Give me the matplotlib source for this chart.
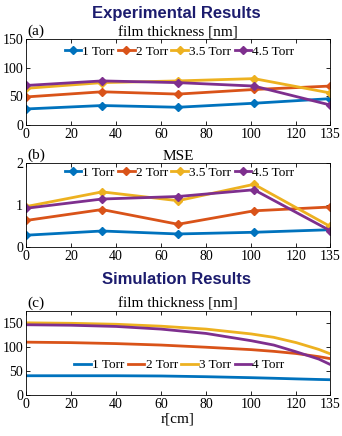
import matplotlib
matplotlib.use("Agg")
import matplotlib.pyplot as plt

# experimental data (5 radial positions)
r_exp = [0, 33.75, 67.5, 101.25, 135]
exp_labels = ["1 Torr", "2 Torr", "3.5 Torr", "4.5 Torr"]
thick_1 = [28, 34, 31, 38, 46]
thick_2 = [49, 58, 54, 62, 68]
thick_35 = [64, 74, 77, 81, 56]
thick_45 = [69, 77, 74, 68, 35]
mse_1 = [0.28, 0.38, 0.31, 0.35, 0.41]
mse_2 = [0.63, 0.89, 0.54, 0.86, 0.95]
mse_35 = [0.96, 1.31, 1.10, 1.49, 0.49]
mse_45 = [0.92, 1.14, 1.20, 1.36, 0.39]

# simulation curves
r_sim = [0, 20, 40, 60, 80, 100, 110, 120, 130, 135]
sim_labels = ["1 Torr", "2 Torr", "3 Torr", "4 Torr"]
sim_1 = [40.5, 40.5, 40.5, 40, 38.5, 36.5, 35.3, 34, 32.8, 32.3]
sim_2 = [110, 109, 107, 104, 99.5, 94.5, 91, 86.5, 80, 76]
sim_3 = [150, 149, 147, 143, 137, 127, 120, 109, 95, 86]
sim_4 = [146, 145, 142.5, 137, 128, 113, 104, 90, 75, 64]

colors = ["#0072BD", "#D95319", "#EDB120", "#7E2F8E"]
xticks = [0, 20, 40, 60, 80, 100, 120, 135]

plt.rcParams["font.family"] = "Liberation Serif"
plt.rcParams["font.size"] = 10

fig = plt.figure(figsize=(3.42, 4.36), dpi=100)
ax_a = fig.add_axes([0.076, 0.7133, 0.889, 0.197])
ax_b = fig.add_axes([0.076, 0.4335, 0.889, 0.193])
ax_c = fig.add_axes([0.076, 0.0933, 0.889, 0.194])


def style(ax, ylim, yticks):
    ax.set_xlim(0, 135)
    ax.set_ylim(*ylim)
    ax.set_xticks(xticks)
    ax.set_yticks(yticks)
    ax.tick_params(direction="in", top=True, right=True, length=3,
                   width=0.6, labelsize=10, pad=2)
    for s in ax.spines.values():
        s.set_linewidth(0.6)


def legend(ax, y):
    ax.legend(loc="center", bbox_to_anchor=(0.505, y), ncol=4, frameon=False,
              handlelength=1.25, handletextpad=0.1, columnspacing=0.25,
              fontsize=9.5, borderpad=0)


for vals, c, lab in zip([thick_1, thick_2, thick_35, thick_45], colors, exp_labels):
    ax_a.plot(r_exp, vals, "-D", color=c, lw=2, ms=4.5, label=lab)
style(ax_a, (0, 150), [0, 50, 100, 150])
legend(ax_a, 0.85)

for vals, c, lab in zip([mse_1, mse_2, mse_35, mse_45], colors, exp_labels):
    ax_b.plot(r_exp, vals, "-D", color=c, lw=2, ms=4.5, label=lab)
style(ax_b, (0, 2), [0, 1, 2])
legend(ax_b, 0.88)

for vals, c, lab in zip([sim_1, sim_2, sim_3, sim_4], colors, sim_labels):
    ax_c.plot(r_sim, vals, "-", color=c, lw=2, label=lab)
style(ax_c, (0, 175), [0, 50, 100, 150])
legend(ax_c, 0.354)
ax_c.set_xlabel("r[cm]", fontsize=11, labelpad=1)

navy = "#1c1c6e"
fig.text(0.515, 0.97, "Experimental Results", ha="center", va="center",
         family="Liberation Sans", weight="bold", fontsize=12, color=navy)
fig.text(0.515, 0.36, "Simulation Results", ha="center", va="center",
         family="Liberation Sans", weight="bold", fontsize=12, color=navy)

for ax, lab, title in [(ax_a, "(a)", "film thickness [nm]"),
                       (ax_b, "(b)", "MSE"),
                       (ax_c, "(c)", "film thickness [nm]")]:
    ax.set_title(title, fontsize=11, pad=2)
    ax.text(0.005, 1.01, lab, transform=ax.transAxes, fontsize=11,
            ha="left", va="bottom")

fig.savefig("out.png", dpi=100)
